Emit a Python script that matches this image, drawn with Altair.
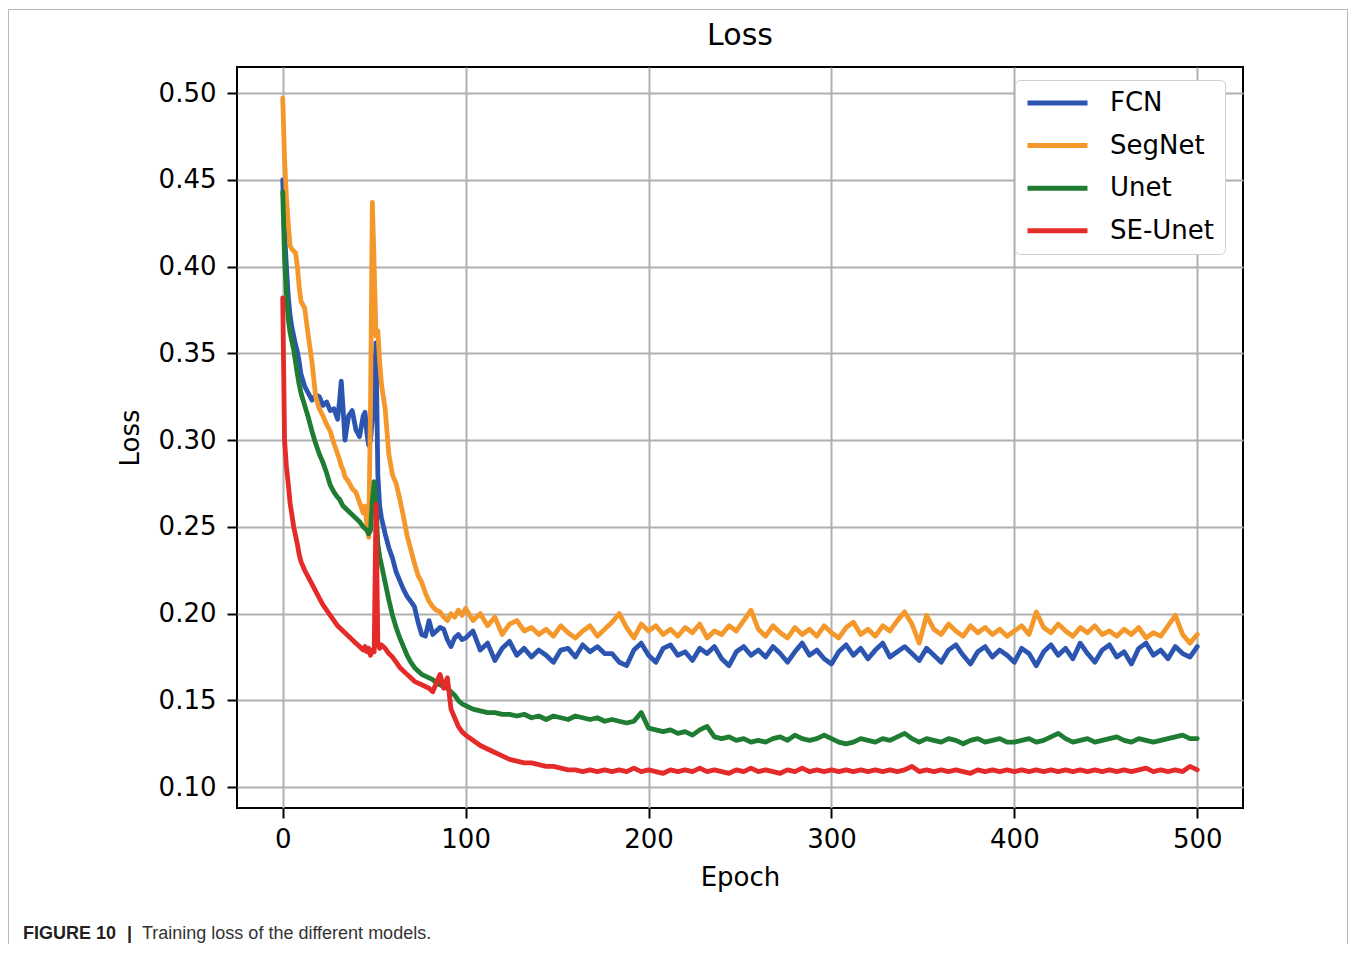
import altair as alt
import pandas as pd

# ---------------- data ----------------
MODELS = ["FCN", "SegNet", "Unet", "SE-Unet"]
COLORS = ["#2b55b0", "#f4982c", "#1e7d32", "#e52a2a"]
X_TICKS = [0, 100, 200, 300, 400, 500]
Y_TICKS = [0.10, 0.15, 0.20, 0.25, 0.30, 0.35, 0.40, 0.45, 0.50]

EPOCH_EARLY = [0, 1, 2, 3, 4, 5, 6, 7, 8, 9,
               10, 12, 14, 16, 18, 20, 22, 24, 26, 28,
               30, 31, 32, 33, 34, 36, 38, 40, 42, 44,
               45, 46, 47, 48, 49, 50, 51, 52, 53, 54,
               56, 58, 60, 62, 64, 66, 68, 70, 72, 74,
               76, 78, 80, 82, 84, 86, 88, 90, 92, 94,
               96, 98]
EPOCH_LATE = [100, 104, 108, 112, 116, 120, 124, 128, 132, 136,
              140, 144, 148, 152, 156, 160, 164, 168, 172, 176,
              180, 184, 188, 192, 196, 200, 204, 208, 212, 216,
              220, 224, 228, 232, 236, 240, 244, 248, 252, 256,
              260, 264, 268, 272, 276, 280, 284, 288, 292, 296,
              300, 304, 308, 312, 316, 320, 324, 328, 332, 336,
              340, 344, 348, 352, 356, 360, 364, 368, 372, 376,
              380, 384, 388, 392, 396, 400, 404, 408, 412, 416,
              420, 424, 428, 432, 436, 440, 444, 448, 452, 456,
              460, 464, 468, 472, 476, 480, 484, 488, 492, 496,
              500]

FCN_EARLY = [0.450, 0.420, 0.400, 0.383, 0.372, 0.365, 0.360, 0.355, 0.351, 0.345,
             0.338, 0.331, 0.327, 0.323, 0.326, 0.325, 0.320, 0.322, 0.317, 0.318,
             0.312, 0.322, 0.334, 0.318, 0.300, 0.314, 0.317, 0.306, 0.302, 0.314,
             0.316, 0.304, 0.297, 0.300, 0.312, 0.332, 0.356, 0.280, 0.262, 0.255,
             0.246, 0.238, 0.232, 0.224, 0.219, 0.214, 0.210, 0.207, 0.204, 0.195,
             0.188, 0.187, 0.196, 0.188, 0.190, 0.192, 0.191, 0.185, 0.181, 0.186,
             0.188, 0.185]
FCN_LATE = [0.186, 0.190, 0.179, 0.183, 0.173, 0.180, 0.184, 0.176, 0.180, 0.175,
            0.179, 0.176, 0.172, 0.179, 0.180, 0.175, 0.182, 0.178, 0.181, 0.177,
            0.177, 0.172, 0.170, 0.179, 0.183, 0.176, 0.172, 0.180, 0.182, 0.176,
            0.178, 0.173, 0.180, 0.177, 0.181, 0.174, 0.170, 0.178, 0.181, 0.176,
            0.179, 0.175, 0.181, 0.177, 0.172, 0.178, 0.183, 0.176, 0.179, 0.174,
            0.171, 0.178, 0.182, 0.176, 0.180, 0.174, 0.179, 0.183, 0.175, 0.178,
            0.181, 0.177, 0.173, 0.180, 0.176, 0.172, 0.179, 0.182, 0.176, 0.171,
            0.178, 0.181, 0.175, 0.179, 0.176, 0.172, 0.180, 0.177, 0.170, 0.178,
            0.182, 0.176, 0.180, 0.174, 0.183, 0.177, 0.172, 0.179, 0.182, 0.175,
            0.178, 0.171, 0.180, 0.183, 0.176, 0.179, 0.174, 0.181, 0.177, 0.175,
            0.181]

SEG_EARLY = [0.497, 0.462, 0.440, 0.425, 0.412, 0.410, 0.409, 0.408, 0.400, 0.388,
             0.380, 0.376, 0.360, 0.345, 0.325, 0.318, 0.314, 0.309, 0.305, 0.298,
             0.292, 0.289, 0.285, 0.283, 0.279, 0.276, 0.272, 0.270, 0.264, 0.258,
             0.262, 0.252, 0.244, 0.320, 0.437, 0.400, 0.360, 0.363, 0.345, 0.332,
             0.318, 0.292, 0.280, 0.275, 0.266, 0.256, 0.245, 0.237, 0.229, 0.222,
             0.218, 0.212, 0.207, 0.204, 0.202, 0.201, 0.198, 0.196, 0.200, 0.198,
             0.202, 0.199]
SEG_LATE = [0.203, 0.196, 0.200, 0.193, 0.198, 0.188, 0.194, 0.196, 0.190, 0.192,
            0.188, 0.191, 0.187, 0.193, 0.189, 0.186, 0.190, 0.193, 0.187, 0.191,
            0.195, 0.200, 0.192, 0.186, 0.194, 0.190, 0.193, 0.188, 0.191, 0.187,
            0.192, 0.189, 0.194, 0.186, 0.190, 0.188, 0.193, 0.190, 0.196, 0.202,
            0.191, 0.187, 0.193, 0.189, 0.186, 0.192, 0.188, 0.191, 0.187, 0.193,
            0.189, 0.186, 0.192, 0.195, 0.188, 0.191, 0.187, 0.193, 0.190, 0.196,
            0.201, 0.194, 0.183, 0.199, 0.191, 0.188, 0.194, 0.190, 0.187, 0.193,
            0.189, 0.192, 0.188, 0.191, 0.187, 0.190, 0.193, 0.188, 0.201, 0.192,
            0.189, 0.194, 0.190, 0.187, 0.192, 0.189, 0.193, 0.188, 0.190, 0.187,
            0.191, 0.188, 0.192, 0.186, 0.189, 0.187, 0.193, 0.199, 0.188, 0.183,
            0.188]

UNET_EARLY = [0.443, 0.405, 0.385, 0.370, 0.362, 0.357, 0.352, 0.345, 0.338, 0.332,
              0.327, 0.320, 0.313, 0.305, 0.298, 0.292, 0.287, 0.281, 0.274, 0.270,
              0.267, 0.266, 0.264, 0.262, 0.261, 0.259, 0.257, 0.255, 0.253, 0.250,
              0.249, 0.248, 0.246, 0.248, 0.265, 0.276, 0.262, 0.240, 0.233, 0.228,
              0.218, 0.208, 0.199, 0.192, 0.186, 0.181, 0.176, 0.172, 0.169, 0.167,
              0.165, 0.164, 0.163, 0.162, 0.160, 0.159, 0.158, 0.157, 0.155, 0.153,
              0.150, 0.148]
UNET_LATE = [0.147, 0.145, 0.144, 0.143, 0.143, 0.142, 0.142, 0.141, 0.142, 0.140,
             0.141, 0.139, 0.141, 0.140, 0.139, 0.141, 0.140, 0.139, 0.140, 0.138,
             0.139, 0.138, 0.137, 0.138, 0.143, 0.134, 0.133, 0.132, 0.133, 0.131,
             0.132, 0.130, 0.133, 0.135, 0.129, 0.128, 0.129, 0.127, 0.128, 0.126,
             0.127, 0.126, 0.128, 0.129, 0.127, 0.130, 0.128, 0.127, 0.128, 0.130,
             0.128, 0.126, 0.125, 0.126, 0.128, 0.127, 0.126, 0.128, 0.127, 0.129,
             0.131, 0.128, 0.126, 0.128, 0.127, 0.126, 0.128, 0.127, 0.125, 0.127,
             0.128, 0.126, 0.127, 0.128, 0.126, 0.126, 0.127, 0.128, 0.126, 0.127,
             0.129, 0.131, 0.128, 0.126, 0.127, 0.128, 0.126, 0.127, 0.128, 0.129,
             0.127, 0.126, 0.128, 0.127, 0.126, 0.127, 0.128, 0.129, 0.130, 0.128,
             0.128]

SE_EARLY = [0.382, 0.300, 0.285, 0.275, 0.264, 0.257, 0.250, 0.245, 0.240, 0.234,
            0.230, 0.225, 0.221, 0.217, 0.213, 0.209, 0.205, 0.202, 0.199, 0.196,
            0.193, 0.192, 0.191, 0.190, 0.189, 0.187, 0.185, 0.183, 0.181, 0.179,
            0.181, 0.178, 0.180, 0.176, 0.179, 0.178, 0.263, 0.182, 0.180, 0.182,
            0.180, 0.177, 0.175, 0.172, 0.169, 0.167, 0.165, 0.163, 0.161, 0.160,
            0.159, 0.158, 0.157, 0.155, 0.160, 0.165, 0.157, 0.163, 0.145, 0.140,
            0.135, 0.132]
SE_LATE = [0.130, 0.127, 0.124, 0.122, 0.120, 0.118, 0.116, 0.115, 0.114, 0.114,
           0.113, 0.112, 0.112, 0.111, 0.110, 0.110, 0.109, 0.110, 0.109, 0.110,
           0.109, 0.110, 0.109, 0.111, 0.109, 0.110, 0.109, 0.108, 0.110, 0.109,
           0.110, 0.109, 0.111, 0.109, 0.110, 0.109, 0.108, 0.110, 0.109, 0.111,
           0.109, 0.110, 0.109, 0.108, 0.110, 0.109, 0.111, 0.109, 0.110, 0.109,
           0.110, 0.109, 0.110, 0.109, 0.110, 0.109, 0.110, 0.109, 0.110, 0.109,
           0.110, 0.112, 0.109, 0.110, 0.109, 0.110, 0.109, 0.110, 0.109, 0.108,
           0.110, 0.109, 0.110, 0.109, 0.110, 0.109, 0.110, 0.109, 0.110, 0.109,
           0.110, 0.109, 0.110, 0.109, 0.110, 0.109, 0.110, 0.109, 0.110, 0.109,
           0.110, 0.109, 0.110, 0.111, 0.109, 0.110, 0.109, 0.110, 0.109, 0.112,
           0.110]

TITLE = "Loss"
X_TITLE = "Epoch"
Y_TITLE = "Loss"
CAPTION_BOLD = "FIGURE 10"
CAPTION_SEP = "|"
CAPTION_TEXT = "Training loss of the different models."

# ---------------- table ----------------
epochs = EPOCH_EARLY + EPOCH_LATE
series = [FCN_EARLY + FCN_LATE, SEG_EARLY + SEG_LATE,
          UNET_EARLY + UNET_LATE, SE_EARLY + SE_LATE]
rows = []
for name, vals in zip(MODELS, series):
    for e, v in zip(epochs, vals):
        rows.append({"Epoch": e, "Loss": v, "Model": name})
df = pd.DataFrame(rows)

FONT = "DejaVu Sans"
W, H = 1006, 741
PAD = {"left": 229, "top": 59, "right": 105, "bottom": 136}

lines = alt.Chart(df).mark_line(strokeWidth=4.8, strokeJoin="round", strokeCap="round").encode(
    x=alt.X("Epoch:Q",
            scale=alt.Scale(domain=[-25, 525], nice=False, zero=False),
            axis=alt.Axis(values=X_TICKS, title=X_TITLE, labelPadding=8, titlePadding=12,
                          labelFlush=False)),
    y=alt.Y("Loss:Q",
            scale=alt.Scale(domain=[0.088, 0.515], nice=False, zero=False),
            axis=alt.Axis(values=Y_TICKS, format=".2f", title=Y_TITLE, labelPadding=11,
                          titlePadding=15, labelFlush=False)),
    color=alt.Color("Model:N", sort=MODELS,
                    scale=alt.Scale(domain=MODELS, range=COLORS),
                    legend=alt.Legend(orient="none", legendX=778, legendY=13, title=None,
                                      symbolType="stroke", symbolSize=3600,
                                      symbolStrokeWidth=5, labelFont=FONT, labelFontSize=26,
                                      labelColor="black", labelOffset=20, padding=10,
                                      clipHeight=26, rowPadding=16.6,
                                      strokeColor="#d0d0d0", fillColor="white",
                                      cornerRadius=5)),
)

one = pd.DataFrame({"t": [0]})
frame = alt.Chart(one).mark_rect(fill="white", fillOpacity=0, stroke="#b8b8b8", strokeWidth=1).encode(
    x=alt.value(-228.5), x2=alt.value(W + PAD["right"] - 0.5), y=alt.value(-57.5), y2=alt.value(1000))

title = alt.Chart(pd.DataFrame({"t": [TITLE]})).mark_text(
    align="center", baseline="middle", font=FONT, fontSize=30, color="black").encode(
    x=alt.value(W / 2), y=alt.value(-31), text="t:N")

cap_bold = alt.Chart(pd.DataFrame({"t": [CAPTION_BOLD]})).mark_text(
    align="left", baseline="alphabetic", font="Liberation Sans", fontSize=18,
    fontWeight="bold", color="#231f20").encode(x=alt.value(-214), y=alt.value(872), text="t:N")
cap_sep = alt.Chart(pd.DataFrame({"t": [CAPTION_SEP]})).mark_text(
    align="left", baseline="alphabetic", font="Liberation Sans", fontSize=18,
    fontWeight="bold", color="#231f20").encode(x=alt.value(-110), y=alt.value(872), text="t:N")
cap_text = alt.Chart(pd.DataFrame({"t": [CAPTION_TEXT]})).mark_text(
    align="left", baseline="alphabetic", font="Liberation Sans", fontSize=18,
    color="#333333").encode(x=alt.value(-95), y=alt.value(872), text="t:N")

chart = alt.layer(frame, lines, title, cap_bold, cap_sep, cap_text).properties(
    width=W, height=H,
    autosize=alt.AutoSizeParams(type="none"),
    padding=PAD,
    background="white",
).configure_view(
    stroke="black", strokeWidth=2
).configure_axis(
    labelFont=FONT, labelFontSize=26, labelColor="black",
    titleFont=FONT, titleFontSize=26, titleColor="black", titleFontWeight="normal",
    grid=True, gridColor="#b0b0b0", gridWidth=2, gridOpacity=1,
    tickColor="black", tickWidth=2, tickSize=10, domain=False,
)

chart.save("out.html", embed_options={"renderer": "svg", "actions": False})
